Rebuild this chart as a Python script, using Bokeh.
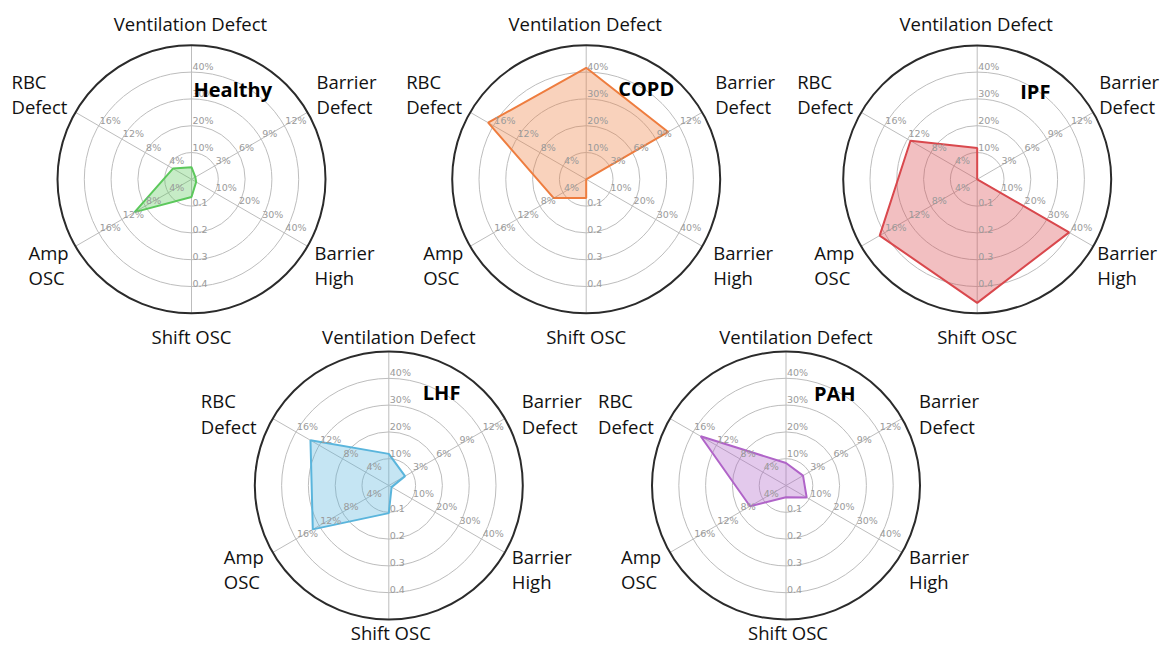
import numpy as np
from bokeh.plotting import figure
from bokeh.models import Range1d
from bokeh.embed import file_html
from bokeh.resources import INLINE
from bokeh.core.properties import value

# ---------------- data ----------------
axis_names = ["Ventilation Defect", "Barrier Defect", "Barrier High",
              "Shift OSC", "Amp OSC", "RBC Defect"]
axis_angles = [90, 30, -30, -90, 210, 150]          # degrees
ring_step = [10, 3, 10, 0.1, 4, 4]                  # value per grid ring
vent_ticks = ["10%", "20%", "30%", "40%"]
barrier_defect_ticks = ["3%", "6%", "9%", "12%"]
barrier_high_ticks = ["10%", "20%", "30%", "40%"]
shift_ticks = ["0.1", "0.2", "0.3", "0.4"]
amp_ticks = ["4%", "8%", "12%", "16%"]
rbc_ticks = ["4%", "8%", "12%", "16%"]
tick_labels = [vent_ticks, barrier_defect_ticks, barrier_high_ticks,
               shift_ticks, amp_ticks, rbc_ticks]

groups = ["Healthy", "COPD", "IPF", "LHF", "PAH"]
healthy = [4.5, 0.5, 2.0, 0.066, 9.8, 3.2]
copd = [41.6, 10.6, 0.0, 0.070, 5.6, 16.9]
ipf = [11.7, 0.0, 39.6, 0.461, 16.8, 11.5]
lhf = [11.8, 2.1, 1.2, 0.103, 13.1, 13.5]
pah = [8.4, 2.2, 8.9, 0.044, 6.2, 14.7]
group_values = [healthy, copd, ipf, lhf, pah]
group_colors = ["#5cc85c", "#ee7d3f", "#d9484d", "#5ab5dc", "#b064c8"]

# ---------------- layout ----------------
W, H = 1162, 646
UNIT = 26.8                       # px per grid ring
centers_x = [191, 585.7, 976.7, 388.3, 785.5]
centers_y = [178.8, 178.8, 178.8, 485, 485]
row = [0, 0, 0, 1, 1]
title_dx = [2, 32, 43, 34, 28]
title_dy = [-90, -91, -88, -93, -92]
right_shift = [0, 4, -3, 0, 0]     # per-chart nudge of right-hand labels
# label offsets per row: (dx, middle dy) relative to chart centre
lab_vent = [(-1, -156), (10, -149)]
lab_shift = [(0, 157), (2, 147)]
lab_bdef = [(125, -98, -73), (133, -85, -59)]
lab_bhigh = [(123, 73, 98), (123, 71, 96)]
lab_rbc = [(-180, -98, -73), (-188, -85, -59)]
lab_amp = [(-163, 73, 98), (-165, 71, 96)]

p = figure(width=W, height=H, x_range=Range1d(0, W), y_range=Range1d(H, 0),
           output_backend="svg", toolbar_location=None, min_border=0)
p.axis.visible = False
p.grid.visible = False
p.outline_line_color = None
p.background_fill_color = "white"

LABEL_FONT = value("Open Sans")
LFS = "18.5px"
LCOL = "#111111"
ang = np.radians(axis_angles)


def label_lines(x, ys, lines, align="left"):
    p.text([x] * len(lines), ys, text=lines, text_font=LABEL_FONT,
           text_font_size=LFS, text_color=LCOL, text_align=align,
           text_baseline="middle")


for g, name in enumerate(groups):
    cx, cy = centers_x[g], centers_y[g]
    rw = row[g]
    # grid rings
    p.circle(x=[cx] * 4, y=[cy] * 4, radius=[UNIT * k for k in range(1, 5)],
             fill_color=None, line_color="#bdbdbd", line_width=1)
    # spokes
    for a in ang:
        p.line([cx, cx + 5 * UNIT * np.cos(a)], [cy, cy - 5 * UNIT * np.sin(a)],
               line_color="#bdbdbd", line_width=1)
    # data polygon
    vals = group_values[g]
    r = [v / s for v, s in zip(vals, ring_step)]
    xs = [cx + ri * UNIT * np.cos(a) for ri, a in zip(r, ang)]
    ys = [cy - ri * UNIT * np.sin(a) for ri, a in zip(r, ang)]
    p.patch(xs, ys, fill_color=group_colors[g], fill_alpha=0.35,
            line_color=group_colors[g], line_width=2)
    # tick labels
    tx, ty, tt = [], [], []
    for a, labs in zip(ang, tick_labels):
        for k, lab in enumerate(labs, start=1):
            tx.append(cx + k * UNIT * np.cos(a) + 1)
            ty.append(cy - k * UNIT * np.sin(a))
            tt.append(lab)
    p.text(tx, ty, text=tt, text_font=value("DejaVu Sans"), text_font_size="9.5px",
           text_color="#9a9a9a", text_align="left", text_baseline="bottom")
    # outer circle
    p.circle(x=[cx], y=[cy], radius=[5 * UNIT], fill_color=None,
             line_color="#2b2b2b", line_width=2)
    # axis labels
    dx, dy = lab_vent[rw]
    label_lines(cx + dx, [cy + dy], ["Ventilation Defect"], align="center")
    dx, dy = lab_shift[rw]
    label_lines(cx + dx, [cy + dy], ["Shift OSC"], align="center")
    dx, d1, d2 = lab_bdef[rw]
    label_lines(cx + dx + right_shift[g], [cy + d1, cy + d2], ["Barrier", "Defect"])
    dx, d1, d2 = lab_bhigh[rw]
    label_lines(cx + dx + right_shift[g], [cy + d1, cy + d2], ["Barrier", "High"])
    dx, d1, d2 = lab_rbc[rw]
    label_lines(cx + dx, [cy + d1, cy + d2], ["RBC", "Defect"])
    dx, d1, d2 = lab_amp[rw]
    label_lines(cx + dx, [cy + d1, cy + d2], ["Amp", "OSC"])
    # title
    p.text([cx + title_dx[g]], [cy + title_dy[g]], text=[name], text_font=LABEL_FONT,
           text_font_size="20px", text_font_style="bold", text_color="#000000",
           text_align="left", text_baseline="middle")

open("out.html", "w").write(file_html(p, INLINE))
